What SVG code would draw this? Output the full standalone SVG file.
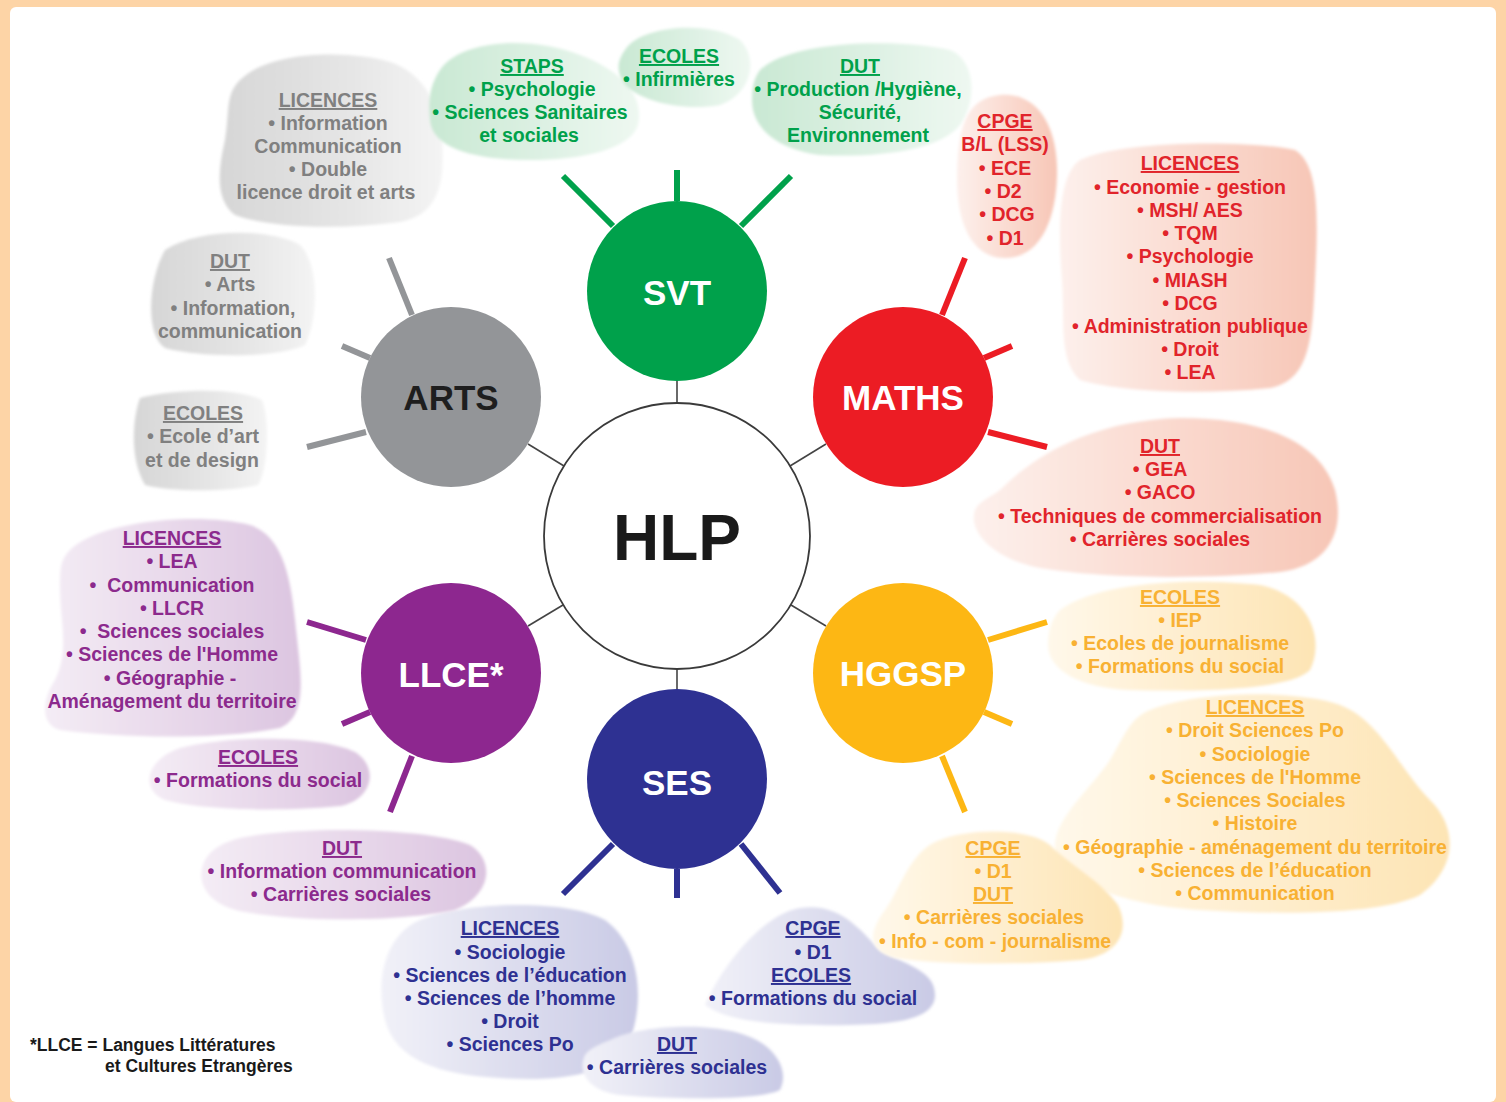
<svg xmlns="http://www.w3.org/2000/svg" width="1506" height="1102" viewBox="0 0 1506 1102">
<defs>
<linearGradient id="gGrey" x1="0" y1="0" x2="1" y2="0"><stop offset="0" stop-color="#d6d6d6"/><stop offset="0.6" stop-color="#e6e6e6"/><stop offset="1" stop-color="#f4f4f4"/></linearGradient>
<linearGradient id="gGreen" x1="0" y1="0" x2="1" y2="0"><stop offset="0" stop-color="#c9e8d3"/><stop offset="1" stop-color="#eef8f1"/></linearGradient>
<linearGradient id="gRed" x1="0" y1="0" x2="1" y2="0"><stop offset="0" stop-color="#fdf0ec"/><stop offset="1" stop-color="#f7c6b6"/></linearGradient>
<linearGradient id="gYellow" x1="0" y1="0" x2="1" y2="0"><stop offset="0" stop-color="#fff8ea"/><stop offset="1" stop-color="#fde4b4"/></linearGradient>
<linearGradient id="gBlue" x1="0" y1="0" x2="1" y2="0"><stop offset="0" stop-color="#f1f1f8"/><stop offset="1" stop-color="#c9cae5"/></linearGradient>
<linearGradient id="gPurple" x1="0" y1="0" x2="1" y2="0"><stop offset="0" stop-color="#f4ecf5"/><stop offset="1" stop-color="#dcc5e0"/></linearGradient>
<filter id="soft" x="-5%" y="-5%" width="110%" height="110%"><feGaussianBlur stdDeviation="1.5"/></filter>
</defs>
<style>
.t{font-family:"Liberation Sans",Arial,Helvetica,sans-serif;font-weight:bold;font-size:19.5px;text-anchor:middle}
.h{text-decoration:underline}
.grey{fill:#808080}.green{fill:#00a14b}.red{fill:#e1242b}.yellow{fill:#f8b133}.blue{fill:#2e3192}.purple{fill:#8c2a8d}
.blob{filter:url(#soft)}
.n{font-family:"Liberation Sans",Arial,Helvetica,sans-serif;font-weight:bold;font-size:35px;text-anchor:middle;fill:#ffffff}
.link{stroke:#444444;stroke-width:1.6;fill:none}
.sp{stroke-width:6;fill:none;stroke-linecap:butt}
.foot{font-family:"Liberation Sans",Arial,Helvetica,sans-serif;font-weight:bold;font-size:17.5px;fill:#1a1a1a}
</style>
<rect x="0" y="0" width="1506" height="1102" fill="#fdd4a6"/>
<rect x="10" y="7" width="1486" height="1095" rx="6" fill="#ffffff"/>

<!-- clouds -->
<g id="cloud-arts-licences">
<path class="blob" fill="url(#gGrey)" d="M240,80 C270,50 350,50 390,62 C420,72 440,100 442,140 C445,180 440,215 400,222 C340,230 270,228 235,215 C215,200 218,170 225,140 C230,110 225,95 240,80 Z"/>
<text class="t grey h" x="328" y="107">LICENCES</text>
<text class="t grey" x="328" y="130">• Information</text>
<text class="t grey" x="328" y="153">Communication</text>
<text class="t grey" x="328" y="176">• Double</text>
<text class="t grey" x="326" y="199">licence droit et arts</text>
</g>
<g id="cloud-arts-dut">
<path class="blob" fill="url(#gGrey)" d="M165,250 C200,228 270,228 300,245 C320,265 318,320 305,345 C280,358 200,358 165,348 C145,335 148,280 165,250 Z"/>
<text class="t grey h" x="230" y="268">DUT</text>
<text class="t grey" x="230" y="291">• Arts</text>
<text class="t grey" x="233" y="315">• Information,</text>
<text class="t grey" x="230" y="338">communication</text>
</g>
<g id="cloud-arts-ecoles">
<path class="blob" fill="url(#gGrey)" d="M140,398 C180,388 240,388 262,400 C270,420 268,470 258,485 C230,492 170,492 145,485 C130,460 132,420 140,398 Z"/>
<text class="t grey h" x="203" y="420">ECOLES</text>
<text class="t grey" x="203" y="443">• Ecole d’art</text>
<text class="t grey" x="202" y="467">et de design</text>
</g>
<g id="cloud-svt-staps">
<path class="blob" fill="url(#gGreen)" d="M440,70 C460,40 530,35 580,55 C620,70 645,95 638,125 C630,150 580,160 530,160 C480,160 432,150 430,120 C428,100 430,85 440,70 Z"/>
<text class="t green h" x="532" y="73">STAPS</text>
<text class="t green" x="532" y="96">• Psychologie</text>
<text class="t green" x="530" y="119">• Sciences Sanitaires</text>
<text class="t green" x="529" y="142">et sociales</text>
</g>
<g id="cloud-svt-ecoles">
<path class="blob" fill="url(#gGreen)" d="M625,50 C640,25 710,20 740,40 C760,60 750,95 720,105 C680,112 640,100 625,85 C615,70 618,60 625,50 Z"/>
<text class="t green h" x="679" y="63">ECOLES</text>
<text class="t green" x="679" y="86">• Infirmières</text>
</g>
<g id="cloud-svt-dut">
<path class="blob" fill="url(#gGreen)" d="M760,70 C790,40 900,38 950,50 C975,60 978,100 960,125 C940,150 880,158 820,155 C780,150 752,130 752,100 C752,85 755,77 760,70 Z"/>
<text class="t green h" x="860" y="73">DUT</text>
<text class="t green" x="858" y="96">• Production /Hygiène,</text>
<text class="t green" x="860" y="119">Sécurité,</text>
<text class="t green" x="858" y="142">Environnement</text>
</g>
<g id="cloud-maths-cpge">
<path class="blob" fill="url(#gRed)" d="M1000,95 C1040,92 1058,130 1057,175 C1056,220 1040,258 1005,258 C970,258 957,220 957,180 C957,130 965,98 1000,95 Z"/>
<text class="t red h" x="1005" y="128">CPGE</text>
<text class="t red" x="1005" y="151">B/L (LSS)</text>
<text class="t red" x="1005" y="175">• ECE</text>
<text class="t red" x="1003" y="198">• D2</text>
<text class="t red" x="1007" y="221">• DCG</text>
<text class="t red" x="1005" y="245">• D1</text>
</g>
<g id="cloud-maths-licences">
<path class="blob" fill="url(#gRed)" d="M1080,160 C1120,140 1250,140 1295,150 C1320,165 1318,220 1315,280 C1312,340 1310,380 1270,388 C1200,395 1120,392 1080,380 C1058,360 1065,320 1062,280 C1058,230 1058,175 1080,160 Z"/>
<text class="t red h" x="1190" y="170">LICENCES</text>
<text class="t red" x="1190" y="194">• Economie - gestion</text>
<text class="t red" x="1190" y="217">• MSH/ AES</text>
<text class="t red" x="1190" y="240">• TQM</text>
<text class="t red" x="1190" y="263">• Psychologie</text>
<text class="t red" x="1190" y="287">• MIASH</text>
<text class="t red" x="1190" y="310">• DCG</text>
<text class="t red" x="1190" y="333">• Administration publique</text>
<text class="t red" x="1190" y="356">• Droit</text>
<text class="t red" x="1190" y="379">• LEA</text>
</g>
<g id="cloud-maths-dut">
<path class="blob" fill="url(#gRed)" d="M1000,490 C1040,450 1100,420 1180,418 C1260,418 1320,440 1335,490 C1345,530 1330,565 1280,572 C1200,580 1100,578 1040,568 C990,558 968,530 975,510 C980,500 990,498 1000,490 Z"/>
<text class="t red h" x="1160" y="453">DUT</text>
<text class="t red" x="1160" y="476">• GEA</text>
<text class="t red" x="1160" y="499">• GACO</text>
<text class="t red" x="1160" y="523">• Techniques de commercialisation</text>
<text class="t red" x="1160" y="546">• Carrières sociales</text>
</g>
<g id="cloud-ses-licences">
<path class="blob" fill="url(#gBlue)" d="M420,920 C470,900 570,900 605,920 C640,945 645,1000 630,1040 C615,1075 560,1082 500,1078 C440,1075 395,1060 385,1020 C375,980 385,935 420,920 Z"/>
<text class="t blue h" x="510" y="935">LICENCES</text>
<text class="t blue" x="510" y="959">• Sociologie</text>
<text class="t blue" x="510" y="982">• Sciences de l’éducation</text>
<text class="t blue" x="510" y="1005">• Sciences de l’homme</text>
<text class="t blue" x="510" y="1028">• Droit</text>
<text class="t blue" x="510" y="1051">• Sciences Po</text>
</g>
<g id="cloud-ses-dut">
<path class="blob" fill="url(#gBlue)" d="M610,1040 C640,1025 710,1022 745,1035 C775,1045 790,1070 780,1090 C760,1100 680,1100 620,1095 C585,1090 578,1070 585,1055 C590,1048 600,1044 610,1040 Z"/>
<text class="t blue h" x="677" y="1051">DUT</text>
<text class="t blue" x="677" y="1074">• Carrières sociales</text>
</g>
<g id="cloud-ses-cpge-ecoles">
<path class="blob" fill="url(#gBlue)" d="M705,1005 C720,970 760,915 800,908 C840,902 860,930 880,950 C905,965 935,970 935,995 C935,1018 900,1024 850,1025 C790,1026 730,1024 705,1005 Z"/>
<text class="t blue h" x="813" y="935">CPGE</text>
<text class="t blue" x="813" y="959">• D1</text>
<text class="t blue h" x="811" y="982">ECOLES</text>
<text class="t blue" x="813" y="1005">• Formations du social</text>
</g>
<g id="cloud-hggsp-ecoles">
<path class="blob" fill="url(#gYellow)" d="M1060,610 C1100,580 1200,578 1260,585 C1310,595 1325,640 1310,670 C1290,690 1200,692 1130,690 C1080,688 1048,670 1048,645 C1048,630 1052,618 1060,610 Z"/>
<text class="t yellow h" x="1180" y="604">ECOLES</text>
<text class="t yellow" x="1180" y="627">• IEP</text>
<text class="t yellow" x="1180" y="650">• Ecoles de journalisme</text>
<text class="t yellow" x="1180" y="673">• Formations du social</text>
</g>
<g id="cloud-hggsp-licences">
<path class="blob" fill="url(#gYellow)" d="M1150,710 C1200,690 1300,690 1340,705 C1380,720 1400,770 1430,800 C1460,830 1455,870 1420,895 C1380,915 1280,915 1200,910 C1120,905 1060,880 1055,850 C1052,820 1090,790 1110,760 C1125,735 1130,718 1150,710 Z"/>
<text class="t yellow h" x="1255" y="714">LICENCES</text>
<text class="t yellow" x="1255" y="737">• Droit Sciences Po</text>
<text class="t yellow" x="1255" y="761">• Sociologie</text>
<text class="t yellow" x="1255" y="784">• Sciences de l'Homme</text>
<text class="t yellow" x="1255" y="807">• Sciences Sociales</text>
<text class="t yellow" x="1255" y="830">• Histoire</text>
<text class="t yellow" x="1255" y="854">• Géographie - aménagement du territoire</text>
<text class="t yellow" x="1255" y="877">• Sciences de l’éducation</text>
<text class="t yellow" x="1255" y="900">• Communication</text>
</g>
<g id="cloud-hggsp-cpge-dut">
<path class="blob" fill="url(#gYellow)" d="M940,840 C970,828 1030,828 1050,845 C1070,865 1100,880 1118,905 C1130,930 1120,955 1080,960 C1020,965 940,965 895,958 C865,950 870,930 885,910 C900,890 910,850 940,840 Z"/>
<text class="t yellow h" x="993" y="855">CPGE</text>
<text class="t yellow" x="993" y="878">• D1</text>
<text class="t yellow h" x="993" y="901">DUT</text>
<text class="t yellow" x="994" y="924">• Carrières sociales</text>
<text class="t yellow" x="995" y="948">• Info - com - journalisme</text>
</g>
<g id="cloud-llce-licences">
<path class="blob" fill="url(#gPurple)" d="M70,550 C100,520 200,512 250,525 C280,535 290,570 295,620 C300,670 310,715 280,728 C220,740 120,738 60,730 C40,725 42,700 55,680 C70,650 60,620 60,590 C60,570 60,560 70,550 Z"/>
<text class="t purple h" x="172" y="545">LICENCES</text>
<text class="t purple" x="172" y="568">• LEA</text>
<text class="t purple" x="172" y="592" xml:space="preserve">•  Communication</text>
<text class="t purple" x="172" y="615">• LLCR</text>
<text class="t purple" x="172" y="638" xml:space="preserve">•  Sciences sociales</text>
<text class="t purple" x="172" y="661">• Sciences de l'Homme</text>
<text class="t purple" x="170" y="685">• Géographie -</text>
<text class="t purple" x="172" y="708">Aménagement du territoire</text>
</g>
<g id="cloud-llce-ecoles">
<path class="blob" fill="url(#gPurple)" d="M180,748 C230,735 320,735 355,752 C380,768 372,800 340,806 C280,812 200,810 165,800 C140,790 145,760 180,748 Z"/>
<text class="t purple h" x="258" y="764">ECOLES</text>
<text class="t purple" x="258" y="787">• Formations du social</text>
</g>
<g id="cloud-llce-dut">
<path class="blob" fill="url(#gPurple)" d="M240,838 C300,825 430,828 470,845 C495,860 492,895 455,910 C400,922 300,922 245,912 C205,905 195,880 205,860 C212,848 225,842 240,838 Z"/>
<text class="t purple h" x="342" y="855">DUT</text>
<text class="t purple" x="342" y="878">• Information communication</text>
<text class="t purple" x="341" y="901">• Carrières sociales</text>
</g>

<!-- connectors -->
<g id="connectors">
<line class="link" x1="677" y1="380" x2="677" y2="404"/>
<line class="link" x1="677" y1="669" x2="677" y2="690"/>
<line class="link" x1="564" y1="466" x2="528" y2="444"/>
<line class="link" x1="790" y1="466" x2="826" y2="444"/>
<line class="link" x1="563" y1="605" x2="528" y2="626"/>
<line class="link" x1="791" y1="605" x2="826" y2="626"/>
<g stroke="#00a14b" class="sp">
<line x1="613" y1="226" x2="563" y2="176"/>
<line x1="677" y1="201" x2="677" y2="170"/>
<line x1="741" y1="226" x2="791" y2="176"/>
</g>
<g stroke="#2e3192" class="sp">
<line x1="613" y1="844" x2="563" y2="894"/>
<line x1="677" y1="869" x2="677" y2="898"/>
<line x1="741" y1="844" x2="780" y2="893"/>
</g>
<g stroke="#939598" class="sp">
<line x1="412" y1="315" x2="389" y2="258"/>
<line x1="370" y1="358" x2="342" y2="346"/>
<line x1="366" y1="432" x2="307" y2="447"/>
</g>
<g stroke="#ec1c24" class="sp">
<line x1="942" y1="315" x2="965" y2="258"/>
<line x1="984" y1="358" x2="1012" y2="346"/>
<line x1="988" y1="432" x2="1047" y2="447"/>
</g>
<g stroke="#8d278f" class="sp">
<line x1="366" y1="640" x2="307" y2="622"/>
<line x1="370" y1="712" x2="342" y2="724"/>
<line x1="412" y1="756" x2="390" y2="812"/>
</g>
<g stroke="#fdb714" class="sp">
<line x1="988" y1="640" x2="1047" y2="622"/>
<line x1="984" y1="712" x2="1012" y2="724"/>
<line x1="942" y1="756" x2="965" y2="812"/>
</g>
</g>

<!-- nodes -->
<g id="node-hlp">
<circle cx="677" cy="536" r="133" fill="#ffffff" stroke="#3a3a3a" stroke-width="1.8"/>
<text class="n" x="677" y="560" style="font-size:64px;fill:#1a1a1a">HLP</text>
</g>
<g id="node-svt">
<circle cx="677" cy="291" r="90" fill="#00a14b"/>
<text class="n" x="677" y="305">SVT</text>
</g>
<g id="node-arts">
<circle cx="451" cy="397" r="90" fill="#939598"/>
<text class="n" x="451" y="410" style="fill:#1e1e1e">ARTS</text>
</g>
<g id="node-maths">
<circle cx="903" cy="397" r="90" fill="#ec1c24"/>
<text class="n" x="903" y="410">MATHS</text>
</g>
<g id="node-llce">
<circle cx="451" cy="673" r="90" fill="#8d278f"/>
<text class="n" x="451" y="687">LLCE*</text>
</g>
<g id="node-hggsp">
<circle cx="903" cy="673" r="90" fill="#fdb714"/>
<text class="n" x="903" y="686">HGGSP</text>
</g>
<g id="node-ses">
<circle cx="677" cy="779" r="90" fill="#2e3192"/>
<text class="n" x="677" y="795">SES</text>
</g>

<g id="footnote">
<text class="foot" x="30" y="1051">*LLCE = Langues Littératures</text>
<text class="foot" x="105" y="1072">et Cultures Etrangères</text>
</g>
</svg>
